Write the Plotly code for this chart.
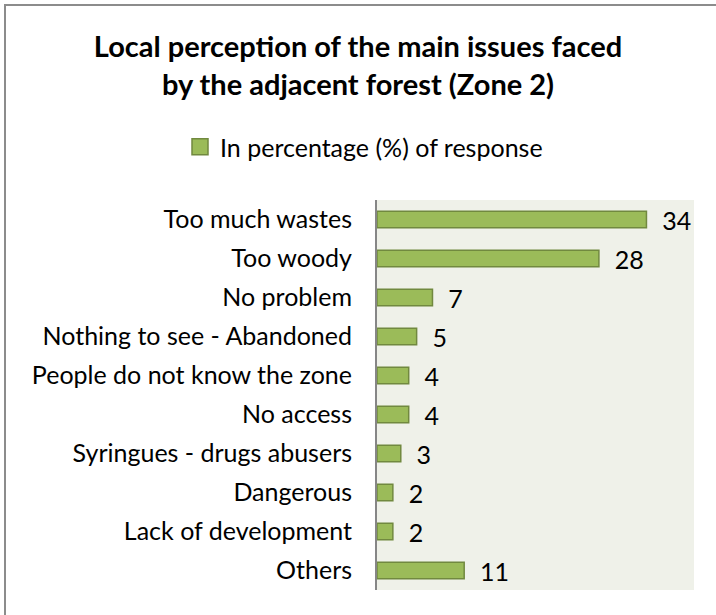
import plotly.graph_objects as go

# Issues as listed top to bottom, with share of responses (%)
issues = [
    "Too much wastes",
    "Too woody",
    "No problem",
    "Nothing to see - Abandoned",
    "People do not know the zone",
    "No access",
    "Syringues - drugs abusers",
    "Dangerous",
    "Lack of development",
    "Others",
]
percent = [34, 28, 7, 5, 4, 4, 3, 2, 2, 11]
series_name = "In percentage (%) of response"

FONT = "Lato"
W, H = 716, 615
L, R, T, B = 377, 22, 200, 25
pw, ph = W - L - R, H - T - B

BAR_FILL = "#9BBB59"
BAR_EDGE = "#71893F"

fig = go.Figure()
fig.add_trace(
    go.Bar(
        y=issues,
        x=percent,
        orientation="h",
        name=series_name,
        marker=dict(color=BAR_FILL, line=dict(color=BAR_EDGE, width=1.5)),
        width=0.42,
        texttemplate="  %{x}",
        textposition="outside",
        constraintext="none",
        textfont=dict(family=FONT, size=25, color="#000000"),
        cliponaxis=False,
        showlegend=False,
    )
)
# legend entry with a larger square swatch
fig.add_trace(
    go.Scatter(
        x=[None], y=[None], mode="markers", name=series_name,
        marker=dict(symbol="square", size=16, color=BAR_FILL,
                    line=dict(color=BAR_EDGE, width=1.5)),
        showlegend=True,
    )
)

# outer chart frame
fig.add_shape(
    type="rect", xref="paper", yref="paper",
    x0=(5 - L) / pw, x1=(W + 5 - L) / pw,
    y0=(H - B - (H + 5)) / ph, y1=(H - B - 5) / ph,
    line=dict(color="#8C8C8C", width=2), fillcolor="rgba(0,0,0,0)",
    layer="below",
)

fig.update_layout(
    width=W, height=H,
    margin=dict(l=L, r=R, t=T, b=B),
    paper_bgcolor="#FFFFFF",
    plot_bgcolor="#EFF1E9",
    font=dict(family=FONT, size=25, color="#000000"),
    title=dict(
        text="<b>Local perception of the main issues faced<br>by the adjacent forest (Zone 2)</b>",
        x=0.5, xanchor="center", xref="container",
        y=1 - 57 / H, yanchor="middle", yref="container",
        font=dict(family=FONT, size=29, color="#000000"),
    ),
    legend=dict(
        orientation="h",
        x=(180 - L) / pw, xanchor="left",
        y=(H - B - 147) / ph, yanchor="middle",
        font=dict(family=FONT, size=25),
        bgcolor="rgba(0,0,0,0)",
        itemwidth=30,
    ),
    xaxis=dict(range=[0, 40], visible=False, showgrid=False, zeroline=False),
    yaxis=dict(
        autorange="reversed",
        showline=True, linecolor="#868686", linewidth=2,
        ticks="", ticklabelstandoff=18,
        showgrid=False,
        tickfont=dict(family=FONT, size=25),
    ),
)

fig.write_html("out.html")
